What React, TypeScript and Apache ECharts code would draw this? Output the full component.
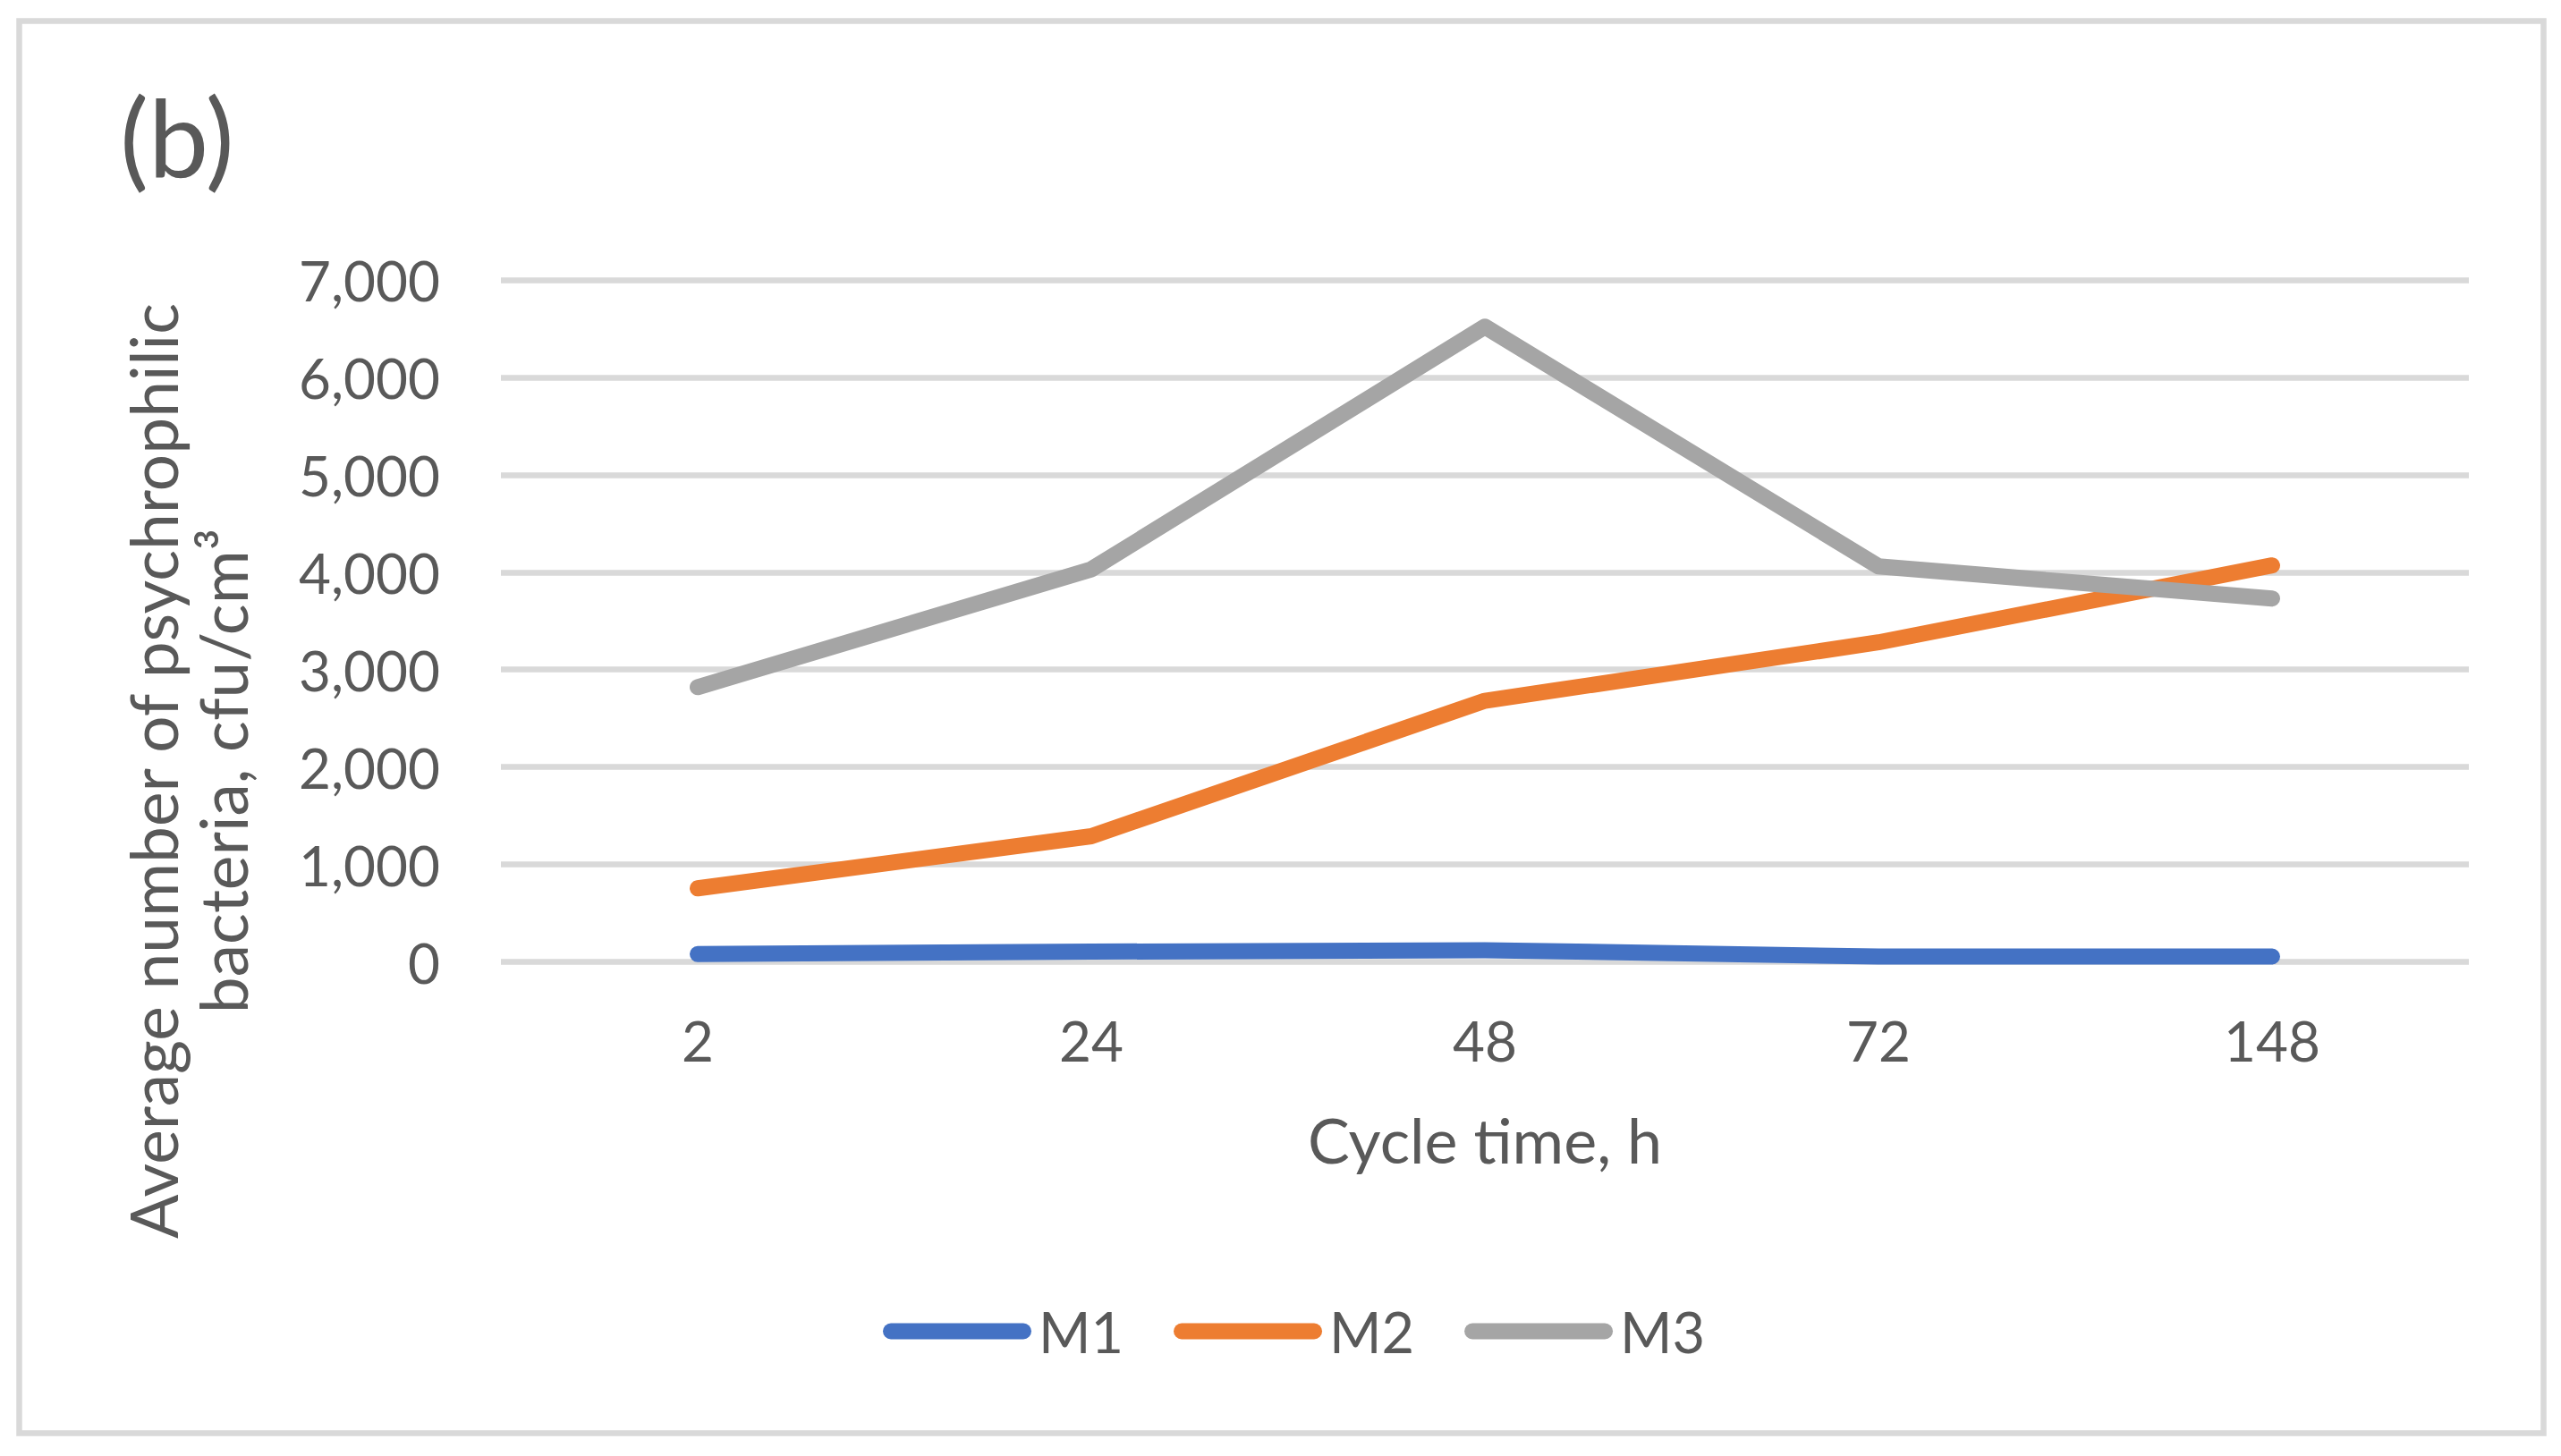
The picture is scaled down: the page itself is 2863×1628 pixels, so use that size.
import React, { useEffect, useRef } from "react";
import * as echarts from "echarts";

const categories = ["2", "24", "48", "72", "148"];
const seriesNames = ["M1", "M2", "M3"];
const m1Values = [80, 105, 120, 55, 55];
const m2Values = [755, 1290, 2680, 3280, 4070];
const m3Values = [2820, 4030, 6520, 4060, 3730];
const colors = ["#4472C4", "#ED7D31", "#A5A5A5"];
const yMin = 0;
const yMax = 7000;
const yInterval = 1000;

const TEXT = "#595959";
const FONT = "Lato";

export default function App() {
  const ref = useRef<HTMLDivElement>(null);
  useEffect(() => {
    if (!ref.current) return;
    const chart = echarts.init(ref.current, undefined, { renderer: "svg" });
    const values = [m1Values, m2Values, m3Values];
    chart.setOption({
      animation: false,
      backgroundColor: "#ffffff",
      textStyle: { fontFamily: FONT },
      grid: { left: 560, right: 103, top: 313, bottom: 552.5, containLabel: false },
      legend: {
        data: seriesNames,
        left: 982,
        top: 1452,
        icon: "path://M9,0 H157 A9,9 0 0 1 157,18 H9 A9,9 0 0 1 9,0 Z",
        itemWidth: 166,
        itemHeight: 18,
        itemGap: 56,
        textStyle: { fontSize: 63, color: TEXT, fontFamily: FONT, lineHeight: 62, padding: [0, 0, 0, 3] },
      },
      xAxis: {
        type: "category",
        data: categories,
        boundaryGap: true,
        axisLine: { show: false },
        axisTick: { show: false },
        axisLabel: { fontSize: 62, color: TEXT, fontFamily: FONT, margin: 56, lineHeight: 62 },
        name: "Cycle time, h",
        nameLocation: "middle",
        nameGap: 156,
        nameTextStyle: { fontSize: 70, color: TEXT, fontFamily: FONT, lineHeight: 84 },
      },
      yAxis: {
        type: "value",
        min: yMin,
        max: yMax,
        interval: yInterval,
        axisLine: { show: false },
        axisTick: { show: false },
        axisLabel: {
          fontSize: 62,
          color: TEXT,
          fontFamily: FONT,
          margin: 68,
          formatter: (v: number) => v.toLocaleString("en-US"),
        },
        splitLine: { show: true, lineStyle: { color: "#D9D9D9", width: 6.5 } },
      },
      series: seriesNames.map((name, i) => ({
        name,
        type: "line",
        data: values[i],
        symbol: "none",
        color: colors[i],
        lineStyle: { color: colors[i], width: 18, cap: "round", join: "round" },
        itemStyle: { color: colors[i] },
      })),
      graphic: [
        {
          type: "rect",
          z: -1,
          shape: { x: 21.5, y: 23.5, width: 2822, height: 1579 },
          style: { fill: "none", stroke: "#D9D9D9", lineWidth: 6.5 },
        },
        {
          type: "text",
          x: 134,
          y: 152,
          style: {
            text: "(b)",
            fontSize: 120,
            fontFamily: FONT,
            fill: TEXT,
            align: "left",
            textAlign: "left",
            verticalAlign: "middle",
            textVerticalAlign: "middle",
          },
        },
        {
          type: "text",
          x: 210,
          y: 862,
          rotation: Math.PI / 2,
          style: {
            text: "Average number of psychrophilic\nbacteria, cfu/cm³",
            fontSize: 73,
            fontFamily: FONT,
            fill: TEXT,
            lineHeight: 78,
            align: "center",
            textAlign: "center",
            verticalAlign: "middle",
            textVerticalAlign: "middle",
          },
        },
      ],
    });
    return () => chart.dispose();
  }, []);
  return (
    <div
      ref={ref}
      style={{ position: "absolute", left: 0, top: 0, width: 2863, height: 1628, background: "#fff" }}
    />
  );
}
